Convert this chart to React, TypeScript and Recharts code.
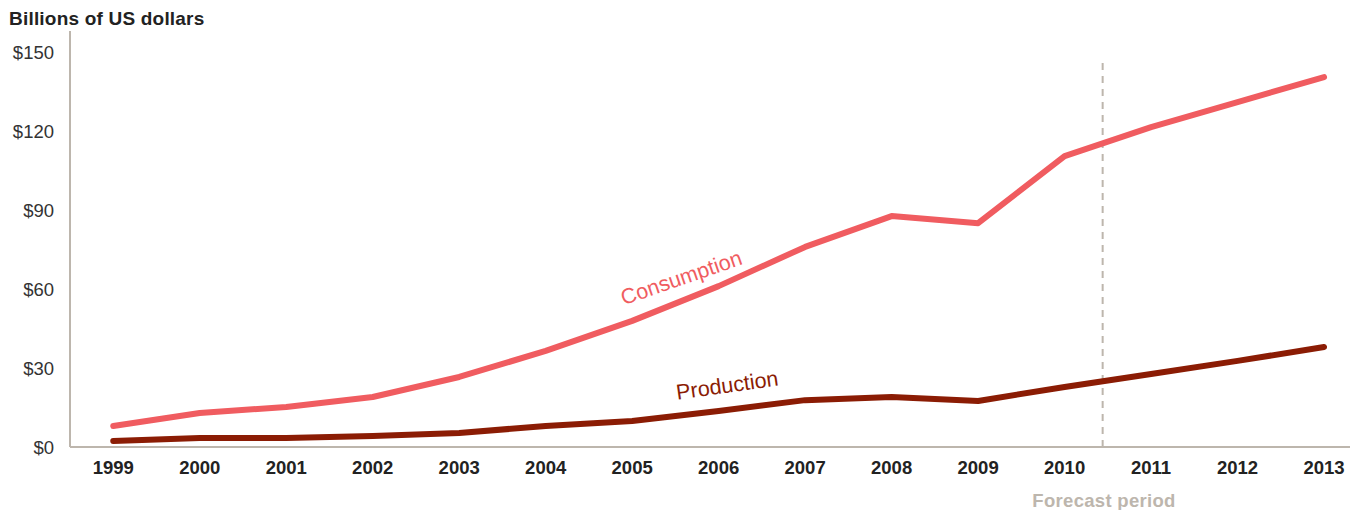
import React from "react";
import { LineChart, Line, XAxis, YAxis, ReferenceLine, ReferenceDot } from "recharts";

const years = [1999, 2000, 2001, 2002, 2003, 2004, 2005, 2006, 2007, 2008, 2009, 2010, 2011, 2012, 2013];
const consumption = [8.0, 12.9, 15.2, 19.0, 26.6, 36.5, 47.9, 61.1, 76.0, 87.7, 85.0, 110.5, 121.5, 131.0, 140.5];
const production = [2.3, 3.4, 3.4, 4.2, 5.3, 8.0, 9.9, 13.7, 17.8, 19.0, 17.5, 22.8, 27.7, 32.7, 38.0];
const yTicks = [0, 30, 60, 90, 120, 150];
const forecastStart = 2010.44;

const data = years.map((y, i) => ({ year: y, consumption: consumption[i], production: production[i] }));

const FONT = "'Liberation Sans', Arial, Helvetica, sans-serif";
const AXIS = "#bdb6ad";
const CONS = "#f05c60";
const PROD = "#8b1c04";

const rotatedLabel = (text: string, color: string, angle: number) => (props: any) => {
  const { cx, cy } = props;
  return (
    <text
      x={cx}
      y={cy}
      fill={color}
      fontSize={21.5}
      fontFamily={FONT}
      textAnchor="middle"
      dominantBaseline="central"
      transform={`rotate(${angle}, ${cx}, ${cy})`}
    >
      {text}
    </text>
  );
};

export default function App() {
  return (
    <div style={{ position: "absolute", left: 0, top: 0, width: 1351, height: 510, fontFamily: FONT }}>
      <div style={{ position: "absolute", left: 9, top: 8, fontSize: 19, letterSpacing: 0.2, fontWeight: 700, color: "#222", whiteSpace: "nowrap" }}>
        Billions of US dollars
      </div>
      <LineChart width={1351} height={510} data={data} margin={{ top: 31, right: 1, bottom: 33, left: 0 }}>
        <XAxis
          dataKey="year"
          type="number"
          domain={[1998.5, 2013.3]}
          ticks={years}
          allowDataOverflow
          tickLine={false}
          tickSize={0}
          tickMargin={14}
          height={30}
          axisLine={{ stroke: AXIS, strokeWidth: 2 }}
          tick={{ fill: "#222", fontSize: 18.5, fontWeight: 700, fontFamily: FONT }}
          interval={0}
        />
        <YAxis
          domain={[0, 158]}
          ticks={yTicks}
          allowDataOverflow
          width={70}
          tickLine={false}
          tickSize={0}
          tickMargin={16}
          axisLine={{ stroke: AXIS, strokeWidth: 2 }}
          tick={{ fill: "#333", fontSize: 18.5, fontFamily: FONT }}
          tickFormatter={(v: number) => `$${v}`}
        />
        <ReferenceLine
          segment={[{ x: forecastStart, y: 0 }, { x: forecastStart, y: 146 }]}
          stroke={AXIS}
          strokeWidth={2}
          strokeDasharray="7 6"
        />
        <Line
          type="linear"
          dataKey="consumption"
          stroke={CONS}
          strokeWidth={6}
          strokeLinecap="round"
          strokeLinejoin="round"
          dot={false}
          isAnimationActive={false}
        />
        <Line
          type="linear"
          dataKey="production"
          stroke={PROD}
          strokeWidth={6}
          strokeLinecap="round"
          strokeLinejoin="round"
          dot={false}
          isAnimationActive={false}
        />
        <ReferenceDot x={2005.57} y={64.2} r={0} fill="none" stroke="none" shape={rotatedLabel("Consumption", CONS, -19)} />
        <ReferenceDot x={2006.1} y={23.3} r={0} fill="none" stroke="none" shape={rotatedLabel("Production", PROD, -8)} />
      </LineChart>
      <div
        style={{
          position: "absolute",
          left: 1104,
          top: 490,
          transform: "translateX(-50%)",
          fontSize: 18.5,
          letterSpacing: 0.3,
          fontWeight: 700,
          color: AXIS,
          whiteSpace: "nowrap",
        }}
      >
        Forecast period
      </div>
    </div>
  );
}
